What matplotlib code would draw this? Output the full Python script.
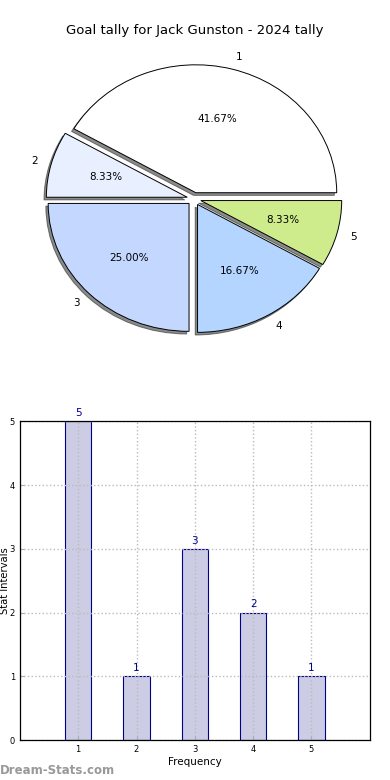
import matplotlib
matplotlib.use("Agg")
import matplotlib.pyplot as plt

title = "Goal tally for Jack Gunston - 2024 tally"
categories = ["1", "2", "3", "4", "5"]
values = [5, 1, 3, 2, 1]
pie_colors = ["#ffffff", "#e8f0ff", "#c4d8ff", "#b3d5ff", "#cfec8c"]
bar_color = "#ccccE4"
bar_edge = "#00008b"

fig = plt.figure(figsize=(3.9, 7.8), dpi=100)

ax1 = fig.add_axes([0.046, 0.54, 0.903, 0.41])
ax1.pie(values, labels=categories, colors=pie_colors, explode=[0.05] * len(values),
        autopct="%.2f%%", startangle=0,
        shadow=dict(ox=-0.012, oy=-0.015, shade=0.9),
        wedgeprops=dict(edgecolor="black", linewidth=0.7),
        textprops=dict(fontsize=7.5))
ax1.set_aspect("auto")
ax1.set_xlim(-1.25, 1.25)
ax1.set_ylim(-1.25, 1.25)
ax1.axis("off")
fig.text(0.5, 0.961, title, ha="center", va="center", fontsize=9.5)

ax2 = fig.add_axes([0.051, 0.051, 0.897, 0.409])
x = list(range(1, len(values) + 1))
bars = ax2.bar(x, values, width=0.45, color=bar_color, edgecolor=bar_edge, linewidth=0.8, zorder=2)
for xi, v in zip(x, values):
    ax2.text(xi, v + 0.05, str(v), ha="center", va="bottom", fontsize=7.5, color=bar_edge)
ax2.set_xlim(0, 6)
ax2.set_ylim(0, 5)
ax2.set_xticks(x)
ax2.set_xticklabels(categories)
ax2.set_yticks(range(0, 6))
ax2.tick_params(direction="in", labelsize=6, length=3, color="#aaaaaa", top=False, right=False)
ax2.grid(True, linestyle=":", color="#bbbbbb", linewidth=1.0, zorder=3)
ax2.set_axisbelow(False)
for s in ax2.spines.values():
    s.set_linewidth(0.9)
    s.set_zorder(5)
ax2.set_xlabel("Frequency", fontsize=7.5, labelpad=2)
ax2.set_ylabel("Stat Intervals", fontsize=7.2, labelpad=0)
ax2.yaxis.set_label_coords(-0.029, 0.5)

fig.text(0.0, 0.012, "Dream-Stats.com", fontsize=8.5, color="#999999", fontweight="bold", ha="left", va="center")

fig.savefig("out.png", dpi=100)
